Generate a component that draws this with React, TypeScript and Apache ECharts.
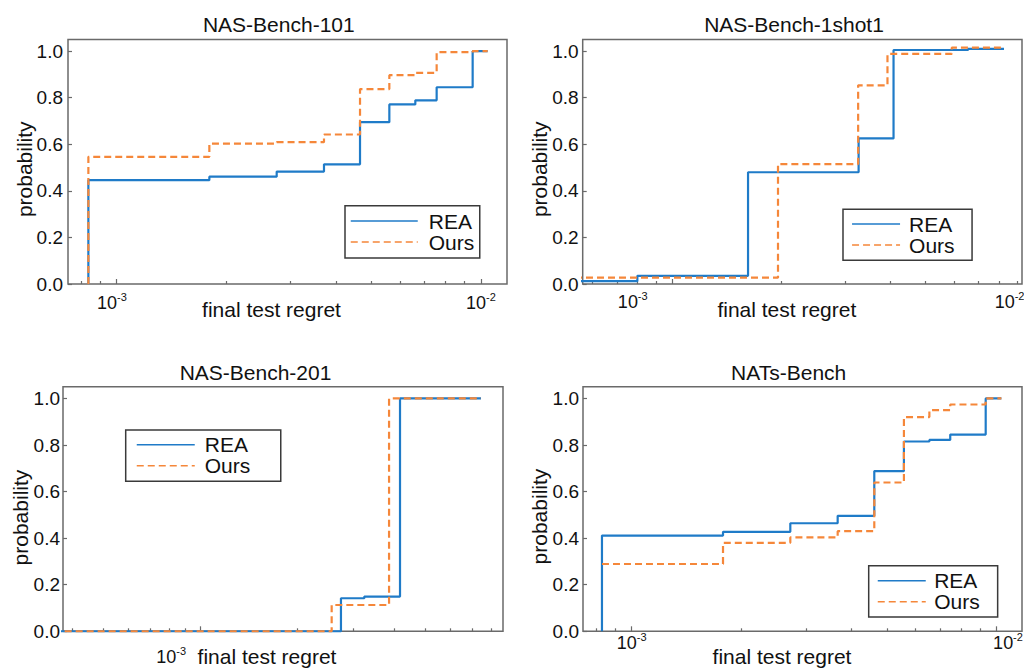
import React, { useEffect, useRef } from 'react';
import * as echarts from 'echarts';

// ---------- data ----------
const TITLES = ['NAS-Bench-101', 'NAS-Bench-1shot1', 'NAS-Bench-201', 'NATs-Bench'];
const SERIES_NAMES = ['REA', 'Ours'];
const Y_TICKS = [0, 0.2, 0.4, 0.6, 0.8, 1.0];

// NAS-Bench-101
const b101ReaX = [8.36e-4, 8.36e-4, 1.796e-3, 2.749e-3, 3.707e-3, 4.655e-3, 5.603e-3, 6.603e-3, 7.556e-3, 9.487e-3, 1.043e-2];
const b101ReaY = [0, 0.446, 0.461, 0.483, 0.514, 0.695, 0.771, 0.789, 0.845, 1.0, 1.0];
const b101OursX = [8.36e-4, 8.36e-4, 1.796e-3, 2.749e-3, 3.707e-3, 4.655e-3, 5.603e-3, 6.603e-3, 7.556e-3, 9.487e-3, 1.043e-2];
const b101OursY = [0, 0.546, 0.603, 0.609, 0.642, 0.837, 0.897, 0.907, 0.996, 1.0, 1.0];

// NAS-Bench-1shot1
const b1s1ReaX = [5.0e-4, 7.98e-4, 1.616e-3, 3.27e-3, 4.085e-3, 6.57e-3, 8.26e-3];
const b1s1ReaY = [0.012, 0.035, 0.48, 0.625, 1.005, 1.01, 1.01];
const b1s1OursX = [5.0e-4, 1.956e-3, 3.26e-3, 3.93e-3, 5.92e-3, 8.26e-3];
const b1s1OursY = [0.027, 0.515, 0.853, 0.988, 1.015, 1.015];

// NAS-Bench-201
const b201ReaX = [3.0e-4, 2.74e-3, 3.238e-3, 4.18e-3, 7.46e-3];
const b201ReaY = [0, 0.142, 0.149, 1.0, 1.0];
const b201OursX = [3.0e-4, 2.564e-3, 3.865e-3, 7.46e-3];
const b201OursY = [0, 0.113, 1.0, 1.0];

// NATs-Bench
const natsReaX = [8.29e-4, 8.29e-4, 1.779e-3, 2.72e-3, 3.667e-3, 4.62e-3, 5.57e-3, 6.54e-3, 7.46e-3, 9.33e-3, 1.03e-2];
const natsReaY = [0, 0.411, 0.427, 0.464, 0.496, 0.688, 0.815, 0.822, 0.845, 1.0, 1.0];
const natsOursX = [8.29e-4, 1.779e-3, 2.72e-3, 3.667e-3, 4.62e-3, 5.57e-3, 6.54e-3, 7.46e-3, 9.33e-3, 1.03e-2];
const natsOursY = [0.289, 0.38, 0.403, 0.43, 0.639, 0.92, 0.95, 0.974, 1.0, 1.0];

// x-axis ranges and ticks (log scale)
const xRange101 = [7.35e-4, 1.1787e-2];
const xRange1s1 = [5.633e-4, 9.264e-3];
const xRange201 = [3.754e-4, 8.73e-3];
const xRangeNats = [7.355e-4, 1.1731e-2];

const majorTicks101 = [1e-3, 1e-2];
const minorTicks101 = [8e-4, 9e-4, 2e-3, 3e-3, 4e-3, 5e-3, 6e-3, 7e-3, 8e-3, 9e-3];
const labelVals101 = [9.7e-4, 1e-2];

const majorTicks1s1 = [1e-3, 1e-2];
const minorTicks1s1 = [6e-4, 7e-4, 8e-4, 9e-4, 2e-3, 3e-3, 4e-3, 5e-3, 6e-3, 7e-3, 8e-3, 9e-3];
const labelVals1s1 = [7.75e-4, 8.56e-3];

const majorTicks201 = [1e-3];
const minorTicks201 = [4e-4, 5e-4, 6e-4, 7e-4, 8e-4, 9e-4, 2e-3, 3e-3, 4e-3, 5e-3, 6e-3, 7e-3, 8e-3];
const labelVals201 = [8.14e-4];

const majorTicksNats = [1e-3, 1e-2];
const minorTicksNats = [8e-4, 9e-4, 2e-3, 3e-3, 4e-3, 5e-3, 6e-3, 7e-3, 8e-3, 9e-3];
const labelValsNats = [1e-3, 1.074e-2];

// ---------- styles / layout ----------
const FONT = '"Liberation Sans", Arial, Helvetica, sans-serif';
const BLUE = '#1f7bc8';
const ORANGE = '#f5873a';
const TEXT = '#111111';
const FRAME = '#6a6a6a';

const panels = [
  {
    title: TITLES[0], reaX: b101ReaX, reaY: b101ReaY, oursX: b101OursX, oursY: b101OursY,
    xRange: xRange101, major: majorTicks101, minor: minorTicks101, labels: labelVals101,
    grid: { left: 68, top: 39.5, width: 439, height: 244.5 },
    titlePos: [278.8, 24.8],
    legend: { left: 345, top: 205.7, padding: [4.9, 5.5, 5.4, 5], itemWidth: 67, textPad: 6 },
    labelMargin: 7.8, xNamePad: 32, yNameGap: 33.5, yNamePad: 15, yLabelMargin: 5,
  },
  {
    title: TITLES[1], reaX: b1s1ReaX, reaY: b1s1ReaY, oursX: b1s1OursX, oursY: b1s1OursY,
    xRange: xRange1s1, major: majorTicks1s1, minor: minorTicks1s1, labels: labelVals1s1,
    grid: { left: 582.7, top: 39.5, width: 439.3, height: 244.5 },
    titlePos: [794, 24.8],
    legend: { left: 843, top: 209.3, padding: [4.3, 17.5, 4.6, 8.3], itemWidth: 48, textPad: 4 },
    labelMargin: 6.2, xNamePad: 31, yNameGap: 32.7, yNamePad: 15, yLabelMargin: 4,
  },
  {
    title: TITLES[2], reaX: b201ReaX, reaY: b201ReaY, oursX: b201OursX, oursY: b201OursY,
    xRange: xRange201, major: majorTicks201, minor: minorTicks201, labels: labelVals201,
    grid: { left: 63, top: 386.8, width: 440, height: 244.5 },
    titlePos: [255.5, 372.2],
    legend: { left: 125.7, top: 430, padding: [4.3, 30.5, 5, 10.3], itemWidth: 58, textPad: 5 },
    labelMargin: 13.9, xNamePad: 32, yNameGap: 31.7, yNamePad: 17, yLabelMargin: 3,
  },
  {
    title: TITLES[3], reaX: natsReaX, reaY: natsReaY, oursX: natsOursX, oursY: natsOursY,
    xRange: xRangeNats, major: majorTicksNats, minor: minorTicksNats, labels: labelValsNats,
    grid: { left: 583, top: 386.8, width: 439, height: 244.5 },
    titlePos: [788.7, 372.2],
    legend: { left: 868.7, top: 565.7, padding: [4.5, 18, 4.8, 8.3], itemWidth: 48, textPad: 3.4 },
    labelMargin: 0, xNamePad: 41, yNameGap: 33, yNamePad: 15, yLabelMargin: 4,
  },
];

const supFmt = (v: number) => (v < 3e-3 ? '{a|10}{b|-3}' : '{a|10}{b|-2}');

function buildOption() {
  const grid = panels.map((p) => ({
    ...p.grid,
    show: true,
    borderColor: FRAME,
    borderWidth: 1.5,
    backgroundColor: 'transparent',
    containLabel: false,
    outerBoundsMode: 'none',
  }));

  const xAxis: any[] = [];
  panels.forEach((p, i) => {
    xAxis.push({
      type: 'log',
      logBase: 10,
      gridIndex: i,
      position: 'bottom',
      min: p.xRange[0],
      max: p.xRange[1],
      axisLine: { show: false },
      axisTick: { show: true, inside: true, length: 5, customValues: p.major, lineStyle: { color: FRAME, width: 1.2 } },
      minorTick: { show: false },
      splitLine: { show: false },
      axisLabel: {
        show: true,
        customValues: p.labels,
        margin: p.labelMargin,
        formatter: supFmt,
        color: TEXT,
        rich: {
          a: { fontSize: 18, fontFamily: FONT, color: TEXT },
          b: { fontSize: 11, fontFamily: FONT, color: TEXT, padding: [0, 0, 12, 0] },
        },
      },
      name: 'final test regret',
      nameLocation: 'middle',
      nameGap: 15,
      nameMoveOverlap: false,
      nameTextStyle: { fontSize: 21, color: TEXT, fontFamily: FONT, padding: [0, p.xNamePad, 0, 0] },
    });
    xAxis.push({
      type: 'log',
      logBase: 10,
      gridIndex: i,
      position: 'bottom',
      min: p.xRange[0],
      max: p.xRange[1],
      axisLine: { show: false },
      axisTick: { show: true, inside: true, length: 3, customValues: p.minor, lineStyle: { color: FRAME, width: 1.2 } },
      minorTick: { show: false },
      splitLine: { show: false },
      axisLabel: { show: false },
    });
  });

  const yAxis = panels.map((p, i) => ({
    type: 'value',
    gridIndex: i,
    min: 0,
    max: 1.05,
    axisLine: { show: false },
    axisTick: { show: true, inside: true, length: 4, customValues: Y_TICKS, lineStyle: { color: FRAME, width: 1.2 } },
    splitLine: { show: false },
    axisLabel: {
      customValues: Y_TICKS,
      formatter: (v: number) => Number(v).toFixed(1),
      fontSize: 19,
      fontFamily: FONT,
      color: TEXT,
      margin: p.yLabelMargin,
    },
    name: 'probability',
    nameLocation: 'middle',
    nameGap: p.yNameGap,
    nameMoveOverlap: false,
    nameTextStyle: { fontSize: 21, color: TEXT, fontFamily: FONT, padding: [0, p.yNamePad, 0, 0] },
  }));

  const legend = panels.map((p) => ({
    orient: 'vertical',
    left: p.legend.left,
    top: p.legend.top,
    padding: p.legend.padding,
    itemWidth: p.legend.itemWidth,
    itemHeight: 14,
    itemGap: 0,
    selectedMode: false,
    backgroundColor: '#ffffff',
    borderColor: '#3a3a3a',
    borderWidth: 1.5,
    borderRadius: 0,
    data: SERIES_NAMES,
    itemStyle: { opacity: 0 },
    lineStyle: { width: 1.5 },
    textStyle: {
      fontSize: 21,
      color: TEXT,
      fontFamily: FONT,
      lineHeight: 19.5,
      padding: [0, 0, 0, p.legend.textPad],
    },
  }));

  const series: any[] = [];
  panels.forEach((p, i) => {
    series.push({
      name: SERIES_NAMES[0],
      type: 'line',
      xAxisIndex: i * 2,
      yAxisIndex: i,
      step: 'end',
      symbol: 'none',
      showSymbol: false,
      color: BLUE,
      itemStyle: { color: BLUE },
      lineStyle: { color: BLUE, width: 2.2, type: 'solid' },
      data: p.reaX.map((x, k) => [x, p.reaY[k]]),
      z: 2,
    });
    series.push({
      name: SERIES_NAMES[1],
      type: 'line',
      xAxisIndex: i * 2,
      yAxisIndex: i,
      step: 'end',
      symbol: 'none',
      showSymbol: false,
      color: ORANGE,
      itemStyle: { color: ORANGE },
      lineStyle: { color: ORANGE, width: 2.2, type: [7, 4] },
      data: p.oursX.map((x, k) => [x, p.oursY[k]]),
      z: 3,
    });
  });

  const graphic = panels.map((p) => ({
    type: 'text',
    x: p.titlePos[0],
    y: p.titlePos[1],
    silent: true,
    style: {
      text: p.title,
      fontSize: 21,
      fontFamily: FONT,
      fill: TEXT,
      align: 'center',
      verticalAlign: 'middle',
    },
  }));

  return {
    animation: false,
    backgroundColor: '#ffffff',
    textStyle: { fontFamily: FONT },
    grid,
    xAxis,
    yAxis,
    legend,
    series,
    graphic,
  };
}

export default function App() {
  const ref = useRef<HTMLDivElement>(null);
  useEffect(() => {
    if (!ref.current) return;
    const chart = echarts.init(ref.current, undefined, { renderer: 'svg' });
    chart.setOption(buildOption() as any);
    return () => chart.dispose();
  }, []);
  return (
    <div
      ref={ref}
      style={{ position: 'fixed', left: 0, top: 0, width: 1024, height: 668, background: '#fff' }}
    />
  );
}
